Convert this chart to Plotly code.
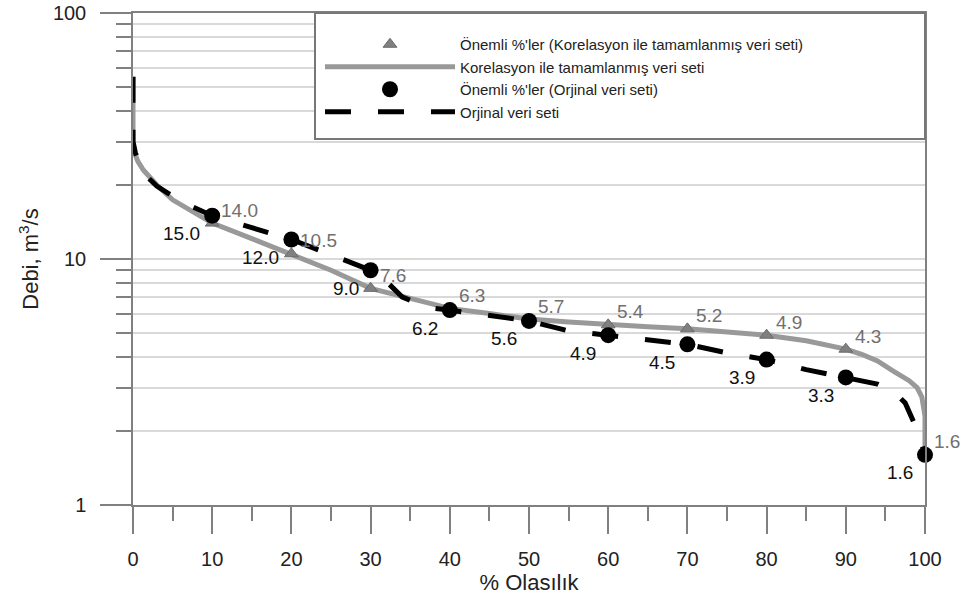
import math
import plotly.graph_objects as go

# --- data ---
corr_x = [0, 0, 0.2, 0.6, 1.3, 2.3, 3, 5, 7.5, 10, 15, 20, 25, 30, 35, 40, 45, 50, 55, 60,
          65, 70, 75, 80, 85, 90, 92, 94, 96, 98, 99, 99.6, 100, 100]
corr_y = [55, 30, 27, 25, 23, 21, 20, 17.4, 15.6, 14.0, 12.1, 10.5, 9.0, 7.6, 6.95, 6.3, 6.0, 5.7,
          5.55, 5.4, 5.3, 5.2, 5.05, 4.9, 4.65, 4.3, 4.1, 3.85, 3.5, 3.2, 3.0, 2.75, 2.3, 1.6]

orig_x = [0, 0, 0.3, 0.8, 1.5, 3, 5, 7.5, 10, 15, 20, 25, 30, 32, 34, 36, 38, 40, 45, 50, 55,
          60, 65, 70, 75, 80, 85, 90, 92, 94, 96, 97.5, 98.5, 99.3, 100]
orig_y = [55, 30, 27, 24.5, 22, 19.8, 18.0, 16.3, 15.0, 13.4, 12.0, 10.4, 9.0, 8.1, 7.0, 6.6,
          6.3, 6.2, 5.9, 5.6, 5.1, 4.9, 4.7, 4.5, 4.15, 3.9, 3.55, 3.3, 3.2, 3.1, 2.9, 2.6,
          2.2, 1.9, 1.6]

pct = [10, 20, 30, 40, 50, 60, 70, 80, 90, 100]
corr_pts = [14.0, 10.5, 7.6, 6.3, 5.7, 5.4, 5.2, 4.9, 4.3, 1.6]
orig_pts = [15.0, 12.0, 9.0, 6.2, 5.6, 4.9, 4.5, 3.9, 3.3, 1.6]

x_ticks = [0, 10, 20, 30, 40, 50, 60, 70, 80, 90, 100]
x_minor = [5, 15, 25, 35, 45, 55, 65, 75, 85, 95]
y_ticks = [1, 10, 100]
y_minor = [2, 3, 4, 5, 6, 7, 8, 9, 20, 30, 40, 50, 60, 70, 80, 90]

names = ["Önemli %'ler (Korelasyon ile tamamlanmış veri seti)",
         "Korelasyon ile tamamlanmış veri seti",
         "Önemli %'ler (Orjinal veri seti)",
         "Orjinal veri seti"]

FONT = "Liberation Sans, Arial, sans-serif"
GRAY = "#999999"
AXC = "#808080"

fig = go.Figure()
fig.add_trace(go.Scatter(x=corr_x, y=corr_y, mode="lines", name=names[1], legendrank=2,
                         line=dict(color=GRAY, width=5)))
fig.add_trace(go.Scatter(x=orig_x, y=orig_y, mode="lines", name=names[3], legendrank=4,
                         line=dict(color="#000000", width=5, dash="26px,27px")))
fig.add_trace(go.Scatter(x=pct, y=corr_pts, mode="markers", name=names[0], legendrank=1,
                         cliponaxis=False,
                         marker=dict(symbol="triangle-up", size=12, color="#808080",
                                     line=dict(color="#6a6a6a", width=1))))
fig.add_trace(go.Scatter(x=pct, y=orig_pts, mode="markers", name=names[2], legendrank=3,
                         cliponaxis=False,
                         marker=dict(symbol="circle", size=16, color="#000000")))

ann = []
for xv, v in zip(pct, corr_pts):
    ann.append(dict(x=xv, y=math.log10(v), xref="x", yref="y", text=f"{v:.1f}",
                    showarrow=False, xanchor="left", yanchor="middle", xshift=7, yshift=13,
                    font=dict(family=FONT, size=19, color="#707070")))
for xv, v in zip(pct, orig_pts):
    ann.append(dict(x=xv, y=math.log10(v), xref="x", yref="y", text=f"{v:.1f}",
                    showarrow=False, xanchor="right", yanchor="middle", xshift=-10, yshift=-18,
                    font=dict(family=FONT, size=19, color="#111111")))

W, H = 965, 599
L, R, T, B = 133, 40, 13, 94
pw, ph = W - L - R, H - T - B

fig.update_layout(
    width=W, height=H,
    margin=dict(l=L, r=R, t=T, b=B, pad=0, autoexpand=False),
    paper_bgcolor="white", plot_bgcolor="white",
    font=dict(family=FONT, size=20, color="#222222"),
    annotations=ann,
    showlegend=True,
    legend=dict(x=(320 - L) / pw, y=(H - B - 28) / ph, xanchor="left", yanchor="top",
                bgcolor="rgba(0,0,0,0)", borderwidth=0, itemwidth=130,
                font=dict(family=FONT, size=15, color="#222222"),
                tracegroupgap=0, traceorder="normal"),
    shapes=[dict(type="rect", xref="paper", yref="paper",
                 x0=(315 - L) / pw, x1=1.0, y0=(H - B - 139) / ph, y1=1.0,
                 line=dict(color="#777777", width=2), fillcolor="white", layer="above")],
    xaxis=dict(range=[0, 100], tickvals=x_ticks, ticks="outside", ticklen=27, tickwidth=1.5,
               tickcolor=AXC, showline=True, linecolor=AXC, linewidth=1.5, mirror=True,
               showgrid=False, zeroline=False, ticklabelstandoff=8, automargin=False,
               tickfont=dict(size=20),
               minor=dict(tickvals=x_minor, ticks="outside",
                          ticklen=14, tickwidth=1.5, tickcolor=AXC, showgrid=False),
               title=dict(text="% Olasılık", font=dict(size=22), standoff=4)),
    yaxis=dict(type="log", range=[0, 2], tickvals=y_ticks, ticktext=["1", "10", "100"],
               ticks="outside", ticklen=31, tickwidth=1.5, tickcolor=AXC,
               showline=True, linecolor=AXC, linewidth=1.5, mirror=True,
               showgrid=True, gridcolor="#d9d9d9", gridwidth=1.5, zeroline=False,
               ticklabelstandoff=10, tickfont=dict(size=20), automargin=False,
               minor=dict(tickvals=y_minor, ticks="outside", ticklen=15, tickwidth=1.5,
                          tickcolor=AXC, showgrid=True, gridcolor="#d9d9d9", gridwidth=1.5),
               title=dict(text="Debi, m<sup>3</sup>/s", font=dict(size=22), standoff=8)),
)

fig.write_html("out.html")
